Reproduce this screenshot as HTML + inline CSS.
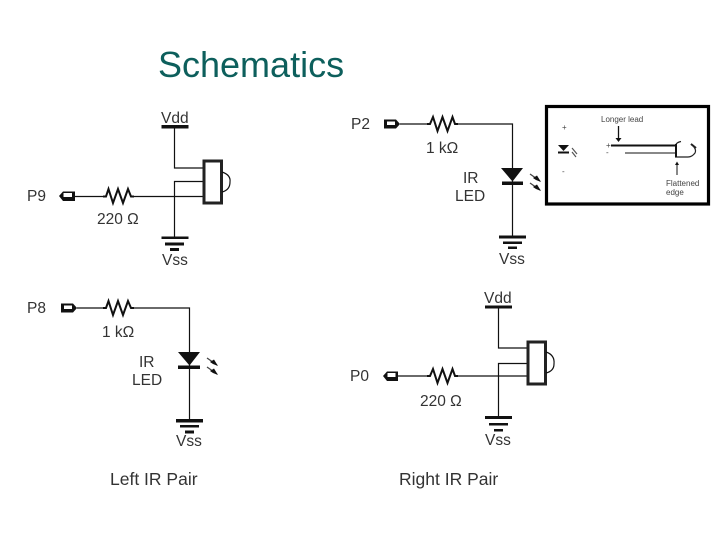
<!DOCTYPE html>
<html><head><meta charset="utf-8"><style>
html,body{margin:0;padding:0;background:#fff}
svg{display:block}
text{font-family:"Liberation Sans",sans-serif;fill:#333}
.d{filter:blur(0.35px)}
.w{fill:none;stroke:#111;stroke-width:1.200}
.r{fill:none;stroke:#111;stroke-width:2;stroke-linejoin:miter}
.b{fill:#111;stroke:none}
.l{font-size:15.500px}
.c{font-size:17.500px}
.t{fill:#444;font-size:8px}
.ray{fill:none;stroke:#444;stroke-width:1.300}
</style></head><body>
<svg width="720" height="540" viewBox="0 0 720 540" xmlns="http://www.w3.org/2000/svg">
<text x="158" y="77" style="font-size:36px;fill:#0d5f5c">Schematics</text>
<g class="d">
<!-- P9 -->
<text class="l" x="27" y="201">P9</text>
<path class="b" d="M59 196L63 191.500H75V201H63Z M63.500 193V197H72V193Z" fill-rule="evenodd"/>
<path class="w" d="M75 196.500H103M133 196.500H203M174.500 127V168H203M203 181.500H174.500V238"/>
<path class="r" d="M103 196.500L106 196.500L108.500 189L113 203L118 189L123 203L128 189L131 196.500H134"/>
<text class="l" x="97" y="224">220 Ω</text>
<rect class="b" x="161.500" y="125" width="27" height="3.500"/>
<text class="l" x="161" y="123">Vdd</text>
<rect x="204" y="161" width="17.500" height="42" fill="#fff" stroke="#222" stroke-width="3"/>
<path class="w" d="M222 172Q231 175 230 182Q230 190 222 192" stroke-width="1.500"/>
<rect class="b" x="161.500" y="236.500" width="27" height="2.500"/><rect class="b" x="165" y="242.500" width="19" height="3"/><rect class="b" x="170" y="248" width="9" height="3"/>
<text class="l" x="162" y="265">Vss</text>

<!-- P2 -->
<text class="l" x="351" y="129">P2</text>
<path class="b" d="M384 119.500H396L400 124L396 128.500H384Z M387 121.500V125H395V121.500Z" fill-rule="evenodd"/>
<path class="w" d="M400 124H427M457 124H512.500V236"/>
<path class="r" d="M427 124L430 124L433 117L437.500 131L442.500 117L447.500 131L452.500 117L455 124H458"/>
<text class="l" x="426" y="153">1 kΩ</text>
<path class="b" d="M501 168H523L512.500 181.500Z"/><rect class="b" x="502" y="181.500" width="21" height="3.500"/>
<path class="ray" d="M530 174L540 181M530 183L540 190"/>
<path class="b" d="M533 178L537 175.500L541 182L536 180ZM533 187L537 184.500L541 191L536 189Z"/>
<text class="l" x="463" y="183">IR</text><text class="l" x="455" y="201">LED</text>
<rect class="b" x="499" y="235.500" width="27" height="3"/><rect class="b" x="503" y="241.500" width="19" height="2.500"/><rect class="b" x="508" y="246.500" width="9" height="2.500"/>
<text class="l" x="499" y="264">Vss</text>

<!-- Inset -->
<rect x="546.500" y="106.500" width="162" height="97.500" fill="#fff" stroke="#000" stroke-width="3.200"/>
<g>
<text class="t" x="601" y="122">Longer lead</text>
<text class="t" x="666" y="186">Flattened</text><text class="t" x="666" y="195">edge</text>
<text class="t" x="562" y="130">+</text><text class="t" x="562" y="174">-</text>
<text class="t" x="606" y="148">+</text><text class="t" x="606" y="155">-</text>
</g>
<path class="b" d="M558 145H569L563.500 151ZM558 151.500H569V153.500H558Z"/>
<path d="M572 148L577 154M572 152L576 157" stroke="#555" stroke-width="1.200" fill="none"/>
<path d="M611 145.500H675" stroke="#111" stroke-width="2"/>
<path d="M625 153H675" stroke="#111" stroke-width="1" fill="none"/>
<path d="M676 144Q678 142 681 141.500M691 144Q697 149 695 153Q692 157 688 157H675" stroke="#222" stroke-width="1.200" fill="none"/>
<path d="M691 144L696 148" stroke="#222" stroke-width="2"/>
<path d="M676 144V157" stroke="#111" stroke-width="2"/>
<path d="M618.500 126V139" stroke="#111" stroke-width="1.300"/><path class="b" d="M615.500 138H621.500L618.500 142Z"/>
<path d="M677 175V164" stroke="#111" stroke-width="1"/><path class="b" d="M675 165H679L677 161.500Z"/>

<!-- P8 -->
<text class="l" x="27" y="313">P8</text>
<path class="b" d="M61 303.500H73L77 308L73 312.500H61Z M64 305.500V309H72V305.500Z" fill-rule="evenodd"/>
<path class="w" d="M77 308H103M133 308H189.500V420"/>
<path class="r" d="M103 308L106 308L108.500 301L113 315L118 301L123 315L128 301L131 308H134"/>
<text class="l" x="102" y="337">1 kΩ</text>
<path class="b" d="M178 352H200L189.500 365.500Z"/><rect class="b" x="178" y="365.500" width="22" height="3.500"/>
<path class="ray" d="M207 358L217 365M207 367L217 374"/>
<path class="b" d="M210 362L214 359.500L218 366L213 364ZM210 371L214 368.500L218 375L213 373Z"/>
<text class="l" x="139" y="367">IR</text><text class="l" x="132" y="385">LED</text>
<rect class="b" x="176" y="419" width="27" height="3.500"/><rect class="b" x="180" y="425" width="19" height="2.500"/><rect class="b" x="185" y="430.500" width="9" height="3"/>
<text class="l" x="176" y="446">Vss</text>
<text class="c" x="110" y="485">Left IR Pair</text>

<!-- P0 -->
<text class="l" x="350" y="381">P0</text>
<path class="b" d="M383 376L387 371.500H398V381H387Z M387.500 373V377H395.500V373Z" fill-rule="evenodd"/>
<path class="w" d="M398 376H427M457 376H527M498.500 307V348H527M527 363.500H498.500V418"/>
<path class="r" d="M427 376L430 376L433 369L437.500 383L442.500 369L447.500 383L452.500 369L455 376H458"/>
<text class="l" x="420" y="406">220 Ω</text>
<rect class="b" x="485" y="305.500" width="27" height="3"/>
<text class="l" x="484" y="303">Vdd</text>
<rect x="528" y="342" width="17.500" height="42" fill="#fff" stroke="#222" stroke-width="3"/>
<path class="w" d="M546 352Q555 355 554 364Q554 371 546 373" stroke-width="1.500"/>
<rect class="b" x="485" y="416" width="27" height="3"/><rect class="b" x="489" y="423" width="19" height="2.500"/><rect class="b" x="494" y="429" width="9" height="2.500"/>
<text class="l" x="485" y="445">Vss</text>
<text class="c" x="399" y="485">Right IR Pair</text>
</g>
</svg>
</body></html>
